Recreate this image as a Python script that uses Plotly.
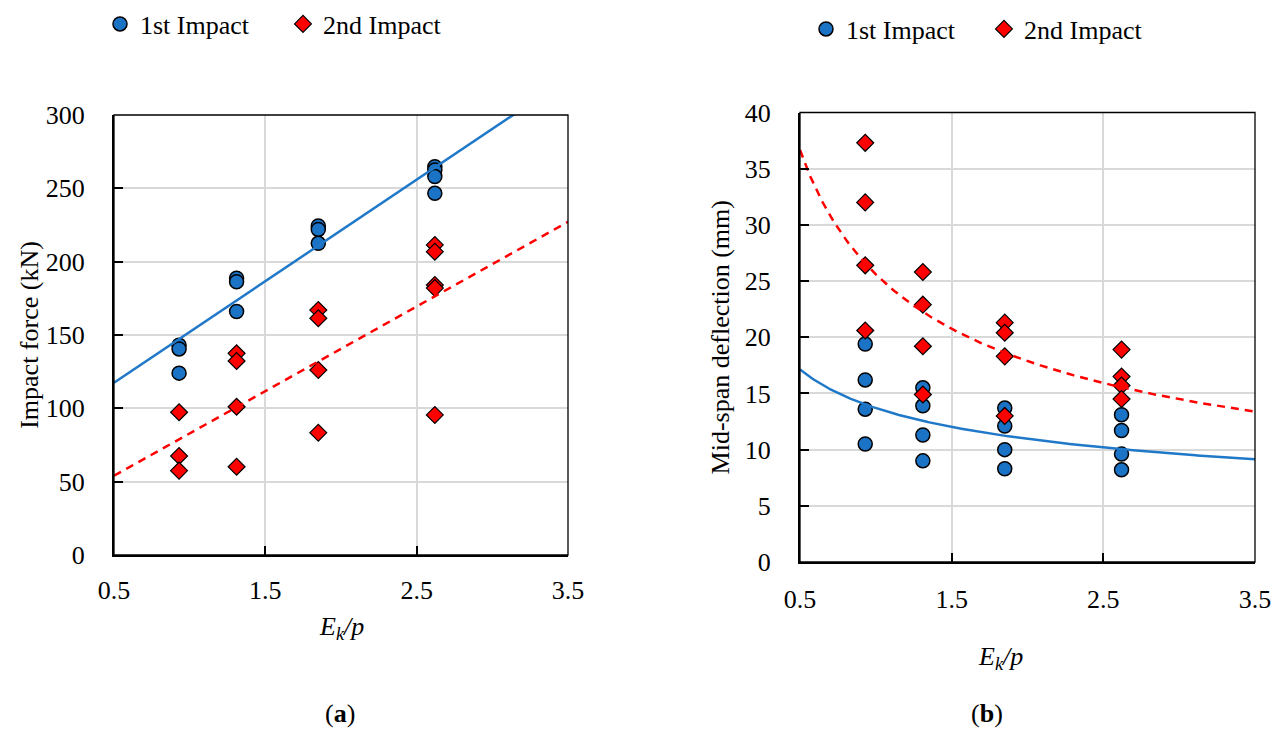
import numpy as np
import plotly.graph_objects as go

# Kinetic energy ratio of each test group
EK_P = [0.93, 1.31, 1.85, 2.62]

# Panel (a): peak impact force (kN), one list per Ek/p group
FORCE_1ST = [[143.0, 140.5, 124.0],
             [188.7, 186.3, 166.0],
             [224.3, 222.0, 212.5],
             [264.7, 262.5, 258.0, 246.6]]
FORCE_2ND = [[97.3, 67.5, 57.5],
             [137.5, 132.3, 101.1, 60.2],
             [167.0, 161.4, 126.1, 83.4],
             [211.4, 206.8, 184.1, 182.0, 95.5]]

# Panel (b): mid-span deflection (mm)
DEFL_1ST = [[19.4, 16.2, 13.6, 10.5],
            [15.5, 13.9, 11.3, 9.0],
            [13.7, 12.1, 10.0, 8.3],
            [13.1, 11.7, 9.6, 8.2]]
DEFL_2ND = [[37.3, 32.0, 26.4, 20.6],
            [25.8, 22.9, 19.2, 14.9],
            [21.3, 20.4, 18.3, 13.0],
            [18.9, 16.5, 15.7, 14.5]]

# Trendlines: linear (slope, intercept) for force, power (a, b) for deflection
FORCE_TREND_1ST = (69.2, 82.9)
FORCE_TREND_2ND = (57.7, 25.2)
DEFL_TREND_1ST = (13.70, -0.323)
DEFL_TREND_2ND = (25.6, -0.518)

X_TICKS = [0.5, 1.5, 2.5, 3.5]
X_TICK_TEXT = ["0.5", "1.5", "2.5", "3.5"]
FORCE_TICKS = [0, 50, 100, 150, 200, 250, 300]
DEFL_TICKS = [0, 5, 10, 15, 20, 25, 30, 35, 40]

FONT = "Liberation Serif"
FS = 26
BLUE = "#1B73C6"
LINE_BLUE = "#1F78C8"
RED = "#FF0000"
W, H = 1281, 752


def expand(groups):
    xs, ys = [], []
    for xv, vals in zip(EK_P, groups):
        xs += [xv] * len(vals)
        ys += list(vals)
    return xs, ys


fig = go.Figure()

circle = dict(symbol="circle", size=14, color=BLUE, line=dict(color="black", width=1.5))
diamond = dict(symbol="diamond", size=13, color=RED, line=dict(color="black", width=1.2))

panels = [
    ("x", "y", "legend", FORCE_1ST, FORCE_2ND),
    ("x2", "y2", "legend2", DEFL_1ST, DEFL_2ND),
]
for xa, ya, lg, first, second in panels:
    x1, y1 = expand(first)
    x2, y2 = expand(second)
    fig.add_trace(go.Scatter(x=x1, y=y1, mode="markers", marker=circle, name="1st Impact",
                             xaxis=xa, yaxis=ya, legend=lg))
    fig.add_trace(go.Scatter(x=x2, y=y2, mode="markers", marker=diamond, name="2nd Impact",
                             xaxis=xa, yaxis=ya, legend=lg))

xt = np.linspace(0.5, 3.5, 300)
fig.add_trace(go.Scatter(x=xt, y=FORCE_TREND_1ST[0] * xt + FORCE_TREND_1ST[1], mode="lines",
                         line=dict(color=LINE_BLUE, width=2.5), showlegend=False,
                         xaxis="x", yaxis="y", hoverinfo="skip"))
fig.add_trace(go.Scatter(x=xt, y=FORCE_TREND_2ND[0] * xt + FORCE_TREND_2ND[1], mode="lines",
                         line=dict(color=RED, width=2.5, dash="8px,6px"), showlegend=False,
                         xaxis="x", yaxis="y", hoverinfo="skip"))
fig.add_trace(go.Scatter(x=xt, y=DEFL_TREND_1ST[0] * xt ** DEFL_TREND_1ST[1], mode="lines",
                         line=dict(color=LINE_BLUE, width=2.5), showlegend=False,
                         xaxis="x2", yaxis="y2", hoverinfo="skip"))
fig.add_trace(go.Scatter(x=xt, y=DEFL_TREND_2ND[0] * xt ** DEFL_TREND_2ND[1], mode="lines",
                         line=dict(color=RED, width=2.5, dash="8px,6px"), showlegend=False,
                         xaxis="x2", yaxis="y2", hoverinfo="skip"))

axis_common = dict(
    showgrid=True, gridcolor="#D9D9D9", gridwidth=1.5, zeroline=False,
    showline=True, linecolor="black", linewidth=2.2,
    ticks="inside", ticklen=9, tickwidth=2, tickcolor="black",
    tickfont=dict(family=FONT, size=FS, color="black"),
    automargin=False,
)

fig.update_layout(
    width=W, height=H,
    margin=dict(l=0, r=0, t=0, b=0, autoexpand=False),
    paper_bgcolor="white", plot_bgcolor="white",
    font=dict(family=FONT, size=FS, color="black"),
    xaxis=dict(domain=[114 / W, 568 / W], anchor="y", range=[0.5, 3.5],
               tickvals=X_TICKS, ticktext=X_TICK_TEXT, ticklabelstandoff=11, **axis_common),
    yaxis=dict(domain=[1 - 555 / H, 1 - 115 / H], anchor="x", range=[0, 300],
               tickvals=FORCE_TICKS, ticklabelstandoff=22,
               title=dict(text="Impact force (kN)", standoff=0,
                          font=dict(family=FONT, size=FS)),
               **axis_common),
    xaxis2=dict(domain=[800 / W, 1255 / W], anchor="y2", range=[0.5, 3.5],
                tickvals=X_TICKS, ticktext=X_TICK_TEXT, ticklabelstandoff=13, **axis_common),
    yaxis2=dict(domain=[1 - 562 / H, 1 - 112.5 / H], anchor="x2", range=[0, 40],
                tickvals=DEFL_TICKS, ticklabelstandoff=22,
                title=dict(text="Mid-span deflection (mm)", standoff=8,
                           font=dict(family=FONT, size=FS)),
                **axis_common),
    legend=dict(orientation="h", x=100 / W, xanchor="left", y=1 - 24 / H, yanchor="middle",
                font=dict(family=FONT, size=FS), entrywidth=138, entrywidthmode="pixels",
                bgcolor="rgba(0,0,0,0)"),
    legend2=dict(orientation="h", x=806 / W, xanchor="left", y=1 - 29 / H, yanchor="middle",
                 font=dict(family=FONT, size=FS), entrywidth=133, entrywidthmode="pixels",
                 bgcolor="rgba(0,0,0,0)"),
    showlegend=True,
)

# Plot-area frames
for xr, yr in (("x domain", "y domain"), ("x2 domain", "y2 domain")):
    fig.add_shape(type="rect", xref=xr, yref=yr, x0=0, x1=1, y0=0, y1=1,
                  line=dict(color="black", width=1.3), layer="above")

# Axis titles and panel labels
texts = [
    ("<i>E<sub>k</sub>/p</i>", 341, 628),
    ("<i>E<sub>k</sub>/p</i>", 1000, 658),
    ("(<b>a</b>)", 340, 713),
    ("(<b>b</b>)", 987, 713),
]
for txt, px, py in texts:
    fig.add_annotation(text=txt, x=px / W, y=1 - py / H, xref="paper", yref="paper",
                       showarrow=False, xanchor="center", yanchor="middle",
                       font=dict(family=FONT, size=FS, color="black"))

fig.write_html("out.html")
